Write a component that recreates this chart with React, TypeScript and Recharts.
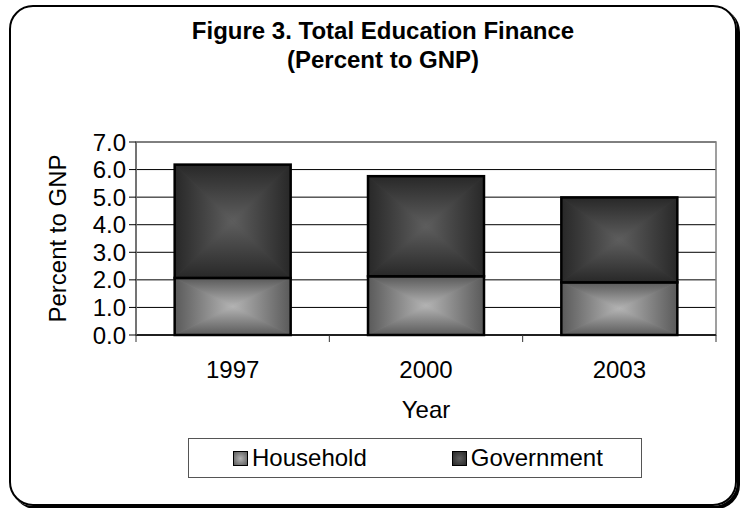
import { Bar, BarChart, CartesianGrid, Legend, ReferenceArea, XAxis, YAxis } from 'recharts';

const years = ['1997', '2000', '2003'];
const household = [2.07, 2.13, 1.91];
const government = [4.11, 3.63, 3.08];
const yTicks = [0, 1, 2, 3, 4, 5, 6, 7];
const seriesOrder = ['household', 'government'];

const data = years.map((year, i) => ({ year, household: household[i], government: government[i] }));

const FONT = '"Liberation Sans", Arial, sans-serif';

const shades: Record<string, { edge: string; mid: string; base: string }> = {
  hh: { edge: '#5a5a5a', mid: '#b4b4b4', base: '#888' },
  gov: { edge: '#282828', mid: '#5e5e5e', base: '#434343' },
};

function Gradients() {
  const dirs: [string, string, string, string, string][] = [
    ['t', '0', '0', '0', '1'],
    ['b', '0', '1', '0', '0'],
    ['l', '0', '0', '1', '0'],
    ['r', '1', '0', '0', '0'],
  ];
  return (
    <defs>
      {Object.entries(shades).map(([id, c]) =>
        dirs.map(([d, x1, y1, x2, y2]) => (
          <linearGradient key={id + d} id={`${id}-${d}`} x1={x1} y1={y1} x2={x2} y2={y2}>
            <stop offset="0" stopColor={c.edge} />
            <stop offset="1" stopColor={c.mid} />
          </linearGradient>
        ))
      )}
    </defs>
  );
}

// rectangle "from centre" gradient, built from four triangles
function ShadedBar(props: any) {
  const { x, y, width, height, gid } = props;
  if (!height || height <= 0) return null;
  const cx = x + width / 2;
  const cy = y + height / 2;
  const r = x + width;
  const b = y + height;
  const tri = (pts: string, d: string) => (
    <polygon points={pts} fill={`url(#${gid}-${d})`} stroke={`url(#${gid}-${d})`} strokeWidth={0.6} strokeLinejoin="round" />
  );
  return (
    <g>
      <rect x={x} y={y} width={width} height={height} fill={shades[gid].base} />
      {tri(`${x},${y} ${r},${y} ${cx},${cy}`, 't')}
      {tri(`${x},${b} ${r},${b} ${cx},${cy}`, 'b')}
      {tri(`${x},${y} ${x},${b} ${cx},${cy}`, 'l')}
      {tri(`${r},${y} ${r},${b} ${cx},${cy}`, 'r')}
      <rect x={x} y={y} width={width} height={height} fill="none" stroke="#000" strokeWidth={2.5} />
    </g>
  );
}

function YearTick(props: any) {
  const { x, y, payload, index, visibleTicksCount, width } = props;
  const band = width && visibleTicksCount ? width / visibleTicksCount : 193;
  const left = x - band / 2;
  return (
    <g>
      <line x1={left} y1={y} x2={left} y2={y + 7} stroke="#333" />
      {index === visibleTicksCount - 1 && <line x1={left + band} y1={y} x2={left + band} y2={y + 7} stroke="#333" />}
      <text x={x} y={y + 43} textAnchor="middle" fontSize={24} fontFamily={FONT} fill="#000">
        {payload.value}
      </text>
    </g>
  );
}

function LegendBox({ payload }: any) {
  const items = [...(payload ?? [])].sort((a: any, b: any) => seriesOrder.indexOf(a.dataKey) - seriesOrder.indexOf(b.dataKey));
  return (
    <div
      style={{
        boxSizing: 'border-box',
        width: '100%',
        height: '100%',
        border: '1.5px solid #555',
        background: '#fff',
        display: 'flex',
        alignItems: 'center',
        paddingLeft: 44,
        fontFamily: FONT,
        fontSize: 24,
        color: '#000',
      }}
    >
      {items.map((p: any, i: number) => {
        const c = shades[p.dataKey === 'household' ? 'hh' : 'gov'];
        return (
          <div key={p.value} style={{ display: 'flex', alignItems: 'center', marginRight: i === 0 ? 85 : 0 }}>
            <span
              style={{
                display: 'inline-block',
                width: 13,
                height: 13,
                border: '1.5px solid #000',
                background: `radial-gradient(${c.mid}, ${c.edge})`,
                marginRight: 4,
              }}
            />
            <span>{p.value}</span>
          </div>
        );
      })}
    </div>
  );
}

export default function App() {
  return (
    <div style={{ position: 'absolute', left: 0, top: 0, width: 742, height: 508, background: '#fff', overflow: 'hidden' }}>
      <div
        style={{
          position: 'absolute',
          left: 9,
          top: 5,
          width: 724,
          height: 497,
          border: '2px solid #000',
          borderRadius: 24,
          boxShadow: '3px 3px 0 #000',
        }}
      />
      <div
        style={{
          position: 'absolute',
          left: 0,
          top: 16,
          width: 766,
          textAlign: 'center',
          fontFamily: FONT,
          fontWeight: 'bold',
          fontSize: 24,
          lineHeight: '29px',
          color: '#000',
        }}
      >
        <div>Figure 3. Total Education Finance</div>
        <div>(Percent to GNP)</div>
      </div>
      <div style={{ position: 'absolute', left: 0, top: 0 }}>
        <BarChart width={742} height={508} data={data} margin={{ top: 142, right: 26, left: 76, bottom: 113 }} barCategoryGap="20%">
          <Gradients />
          <CartesianGrid horizontal vertical={false} stroke="#000" />
          <ReferenceArea y1={0} y2={7} fill="none" stroke="#808080" strokeWidth={1.5} ifOverflow="visible" />
          <XAxis
            dataKey="year"
            height={60}
            tickSize={0}
            tickMargin={0}
            tickLine={false}
            axisLine={{ stroke: '#000', strokeWidth: 1.5 }}
            tick={<YearTick />}
            label={{
              content: ({ viewBox }: any) => (
                <text x={viewBox.x + viewBox.width / 2} y={viewBox.y + 83} textAnchor="middle" fontSize={24} fontFamily={FONT} fill="#000">
                  Year
                </text>
              ),
            }}
          />
          <YAxis
            width={60}
            domain={[0, 7]}
            ticks={yTicks}
            interval={0}
            tickFormatter={(v: number) => v.toFixed(1)}
            tickSize={7}
            tickMargin={3}
            tickLine={{ stroke: '#000' }}
            axisLine={{ stroke: '#666', strokeWidth: 1.5 }}
            tick={{ fontSize: 24, fontFamily: FONT, fill: '#000' }}
            label={{
              content: ({ viewBox }: any) => {
                const lx = viewBox.x - 19;
                const ly = viewBox.y + viewBox.height / 2;
                return (
                  <text x={lx} y={ly} transform={`rotate(-90 ${lx} ${ly})`} textAnchor="middle" dominantBaseline="central" fontSize={24} fontFamily={FONT} fill="#000">
                    Percent to GNP
                  </text>
                );
              },
            }}
          />
          <Legend
            verticalAlign="middle"
            align="center"
            layout="horizontal"
            wrapperStyle={{ left: 188, top: 438, width: 454, height: 40 }}
            content={<LegendBox />}
          />
          <Bar dataKey="household" name="Household" stackId="a" isAnimationActive={false} shape={<ShadedBar gid="hh" />} />
          <Bar dataKey="government" name="Government" stackId="a" isAnimationActive={false} shape={<ShadedBar gid="gov" />} />
        </BarChart>
      </div>
    </div>
  );
}
